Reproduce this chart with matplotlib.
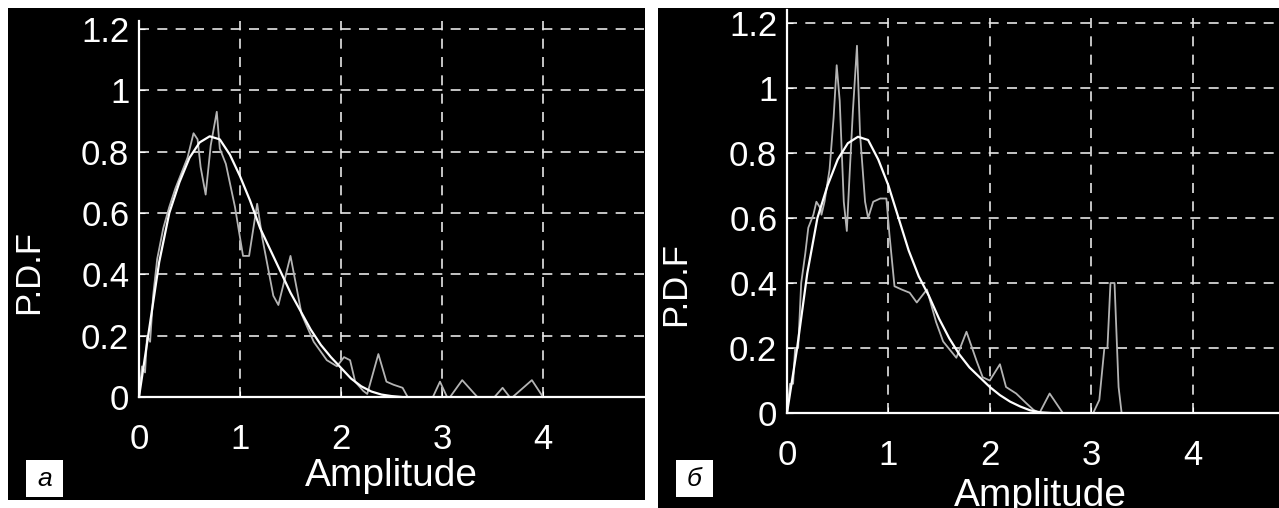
import matplotlib.pyplot as plt
from matplotlib.patches import Rectangle

plt.rcParams['font.family'] = ['Liberation Sans', 'DejaVu Sans']

# smooth fitted P.D.F curves
fit_x = [0, 0.1, 0.2, 0.3, 0.4, 0.5, 0.6, 0.7, 0.8, 0.9, 1.0, 1.1, 1.2, 1.3,
         1.4, 1.5, 1.6, 1.7, 1.8, 1.9, 2.0, 2.1, 2.2, 2.3, 2.4, 2.5, 2.6]
fit_a = [0, 0.22, 0.44, 0.60, 0.70, 0.78, 0.83, 0.85, 0.84, 0.79, 0.72, 0.64, 0.55, 0.48,
         0.41, 0.34, 0.28, 0.22, 0.17, 0.13, 0.095, 0.06, 0.035, 0.018, 0.008, 0.003, 0]
fit_b = [0, 0.2, 0.43, 0.60, 0.70, 0.78, 0.83, 0.85, 0.84, 0.78, 0.70, 0.60, 0.50, 0.42,
         0.36, 0.29, 0.23, 0.18, 0.14, 0.11, 0.08, 0.055, 0.035, 0.02, 0.008, 0.002, 0]

# measured histogram, panel a
meas_a_x = [0, 0.03, 0.06, 0.08, 0.11, 0.14, 0.18, 0.24, 0.30, 0.36, 0.42, 0.48, 0.54, 0.58,
            0.61, 0.66, 0.71, 0.77, 0.80, 0.86, 0.95, 1.03, 1.09, 1.17, 1.22, 1.33, 1.38,
            1.50, 1.61, 1.73, 1.86, 1.96, 2.03, 2.09, 2.14, 2.22, 2.26, 2.37, 2.45, 2.52,
            2.61, 2.66, 2.91, 2.98, 3.05, 3.08, 3.20, 3.35, 3.52, 3.60, 3.67, 3.70, 3.89, 4.0]
meas_a_y = [0, 0.10, 0.08, 0.20, 0.18, 0.33, 0.45, 0.55, 0.62, 0.68, 0.73, 0.78, 0.86, 0.84,
            0.75, 0.66, 0.82, 0.93, 0.81, 0.76, 0.62, 0.46, 0.46, 0.63, 0.52, 0.33, 0.30,
            0.46, 0.27, 0.18, 0.12, 0.10, 0.13, 0.12, 0.05, 0.02, 0.01, 0.14, 0.05, 0.04,
            0.03, 0, 0, 0.05, 0, 0, 0.055, 0, 0, 0.03, 0, 0, 0.055, 0]

# measured histogram, panel b
meas_b_x = [0, 0.03, 0.06, 0.08, 0.11, 0.14, 0.18, 0.21, 0.26, 0.29, 0.33, 0.34, 0.37, 0.42,
            0.46, 0.49, 0.52, 0.56, 0.59, 0.62, 0.65, 0.69, 0.72, 0.77, 0.80, 0.85, 0.92,
            0.98, 1.01, 1.06, 1.13, 1.21, 1.28, 1.38, 1.47, 1.54, 1.67, 1.77, 1.87, 1.93,
            2.0, 2.1, 2.16, 2.26, 2.36, 2.43, 2.49, 2.59, 2.72, 3.02, 3.08, 3.13, 3.16,
            3.19, 3.23, 3.27, 3.30]
meas_b_y = [0, 0.09, 0.09, 0.20, 0.20, 0.40, 0.49, 0.57, 0.61, 0.65, 0.63, 0.61, 0.65, 0.75,
            0.91, 1.07, 0.96, 0.65, 0.56, 0.75, 0.93, 1.13, 0.86, 0.65, 0.60, 0.65, 0.66,
            0.66, 0.55, 0.39, 0.38, 0.37, 0.34, 0.38, 0.28, 0.22, 0.17, 0.25, 0.16, 0.11,
            0.10, 0.15, 0.08, 0.06, 0.03, 0.01, 0, 0.06, 0, 0, 0.04, 0.20, 0.20,
            0.40, 0.40, 0.08, 0]

x_ticks = [0, 1, 2, 3, 4]
y_ticks = [0, 0.2, 0.4, 0.6, 0.8, 1.0, 1.2]
y_labels = ['0', '0.2', '0.4', '0.6', '0.8', '1', '1.2']

W, H = 1279, 508
fig = plt.figure(figsize=(W / 100, H / 100), dpi=100, facecolor='white')


def px(x0, y0, x1, y1):
    # pixel box (top-left origin) -> figure fraction [l, b, w, h]
    return [x0 / W, 1 - y1 / H, (x1 - x0) / W, (y1 - y0) / H]


def panel(bg, box, ytop, fx, fy, mx, my, ylab_xy, xlab_y, letter, letter_box):
    l, b, w, h = px(*bg)
    fig.patches.append(Rectangle((l, b), w, h, transform=fig.transFigure,
                                 facecolor='black', edgecolor='none', zorder=-5))
    ax = fig.add_axes(px(*box))
    ax.set_facecolor('none')
    ax.plot(mx, my, color='#b4b4b4', lw=1.3, zorder=3, clip_on=False)
    ax.plot(fx, fy, color='white', lw=1.6, zorder=4)
    ax.set_xlim(0, 5)
    ax.set_ylim(0, ytop)
    ax.set_xticks(x_ticks)
    ax.set_yticks(y_ticks)
    ax.set_yticklabels(y_labels)
    ax.grid(True, color='#e6e6e6', lw=1.2, linestyle=(0, (6, 5)))
    for s in ['top', 'right']:
        ax.spines[s].set_visible(False)
    for s in ['left', 'bottom']:
        ax.spines[s].set_color('white')
        ax.spines[s].set_linewidth(1.6)
        ax.spines[s].set_zorder(5)
    ax.tick_params(axis='y', direction='in', length=4, color='white',
                   labelcolor='white', labelsize=25, pad=7)
    ax.tick_params(axis='x', direction='in', length=4, color='white',
                   labelcolor='white', labelsize=25, pad=19)
    ax.text(ylab_xy[0], ylab_xy[1], 'P.D.F', transform=ax.transAxes, rotation=90,
            ha='center', va='center', color='white', fontsize=25)
    ax.text(0.5, xlab_y, 'Amplitude', transform=ax.transAxes, ha='center', va='top',
            color='white', fontsize=28)
    l, b, w, h = px(*letter_box)
    fig.patches.append(Rectangle((l, b), w, h, transform=fig.transFigure,
                                 facecolor='white', edgecolor='none', zorder=1))
    fig.text(l + w / 2, b + h / 2, letter, ha='center', va='center', fontsize=19,
             style='italic', color='black')
    return ax


panel((8, 8, 645, 500), (139, 21.3, 644, 397), 1.225, fit_x, fit_a, meas_a_x, meas_a_y,
      (-0.218, 0.333), -0.162, 'а', (26, 460, 63, 497))
panel((658, 8, 1279, 508), (787, 10, 1294, 413), 1.24, fit_x, fit_b, meas_b_x, meas_b_y,
      (-0.22, 0.32), -0.161, 'б', (676, 460, 713, 497))

fig.savefig('out.png', dpi=100, facecolor='white')
